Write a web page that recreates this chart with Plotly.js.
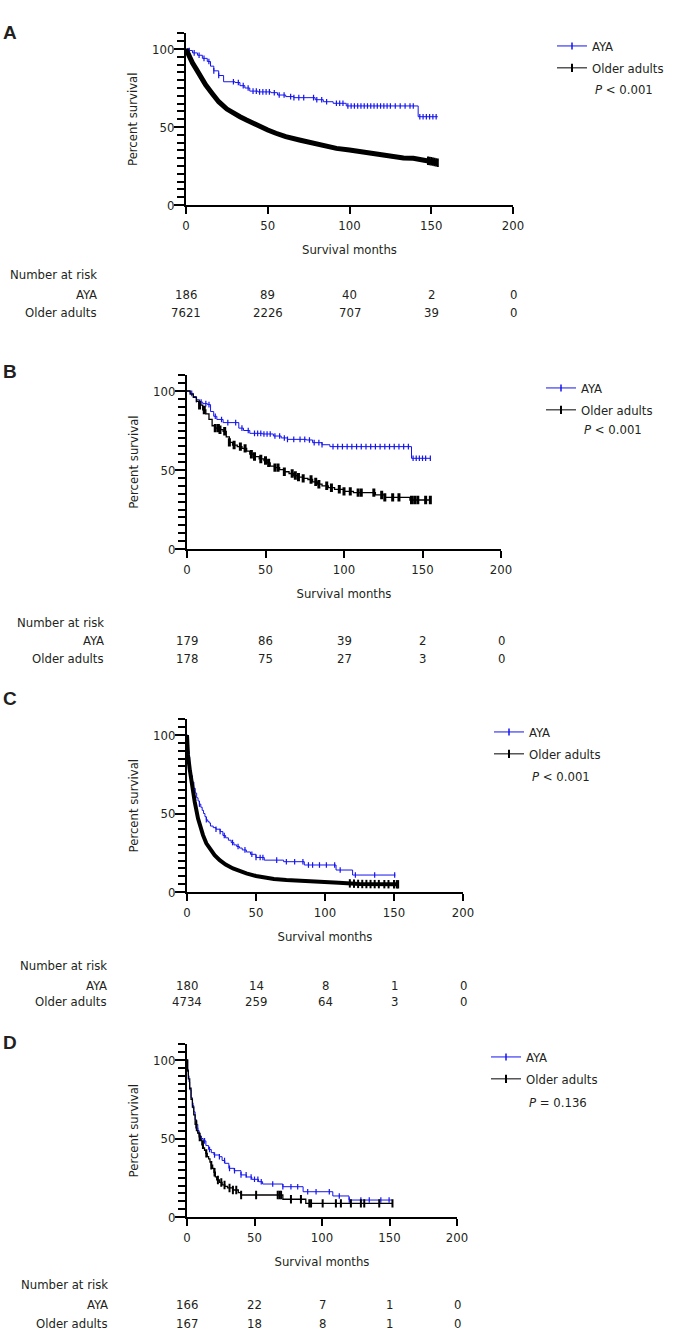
<!DOCTYPE html>
<html>
<head>
<meta charset="utf-8">
<script src="https://cdn.plot.ly/plotly-3.0.1.min.js"></script>
<style>html,body{margin:0;padding:0;background:#fff;}#chart{width:676px;height:1330px;}</style>
</head>
<body>
<div id="chart"></div>
<script>
// ---------------- DATA ----------------
const riskTimes = [0, 50, 100, 150, 200];
const groupNames = ["AYA", "Older adults"];
const panelLetters = ["A", "B", "C", "D"];
const pValues = ["<i>P</i> &lt; 0.001", "<i>P</i> &lt; 0.001", "<i>P</i> &lt; 0.001", "<i>P</i> = 0.136"];
const yMajorTicks = [0, 50, 100];

// Panel A
const aAyaT = [0, 2, 4, 7, 10, 13, 15, 17, 20, 23, 30, 33, 36, 39, 44, 52, 56, 61, 66, 79, 84, 90, 98, 142, 154];
const aAyaS = [100, 99, 97.5, 96, 94, 92, 89, 86, 83, 79, 78.5, 76.5, 75, 73, 72.5, 72, 70.5, 69.5, 68.8, 67.5, 66.2, 65.2, 63.5, 56.6, 56.6];
const aAyaCens = [2, 5, 8, 11, 14, 17, 20, 29, 32, 35, 38, 41, 43, 45, 47, 49, 51, 54, 57, 60, 64, 66, 69, 72, 78, 80, 83, 86, 92, 94, 96, 99, 101, 103, 105, 107, 109, 111, 113, 115, 117, 119, 121, 123, 125, 128, 131, 134, 137, 139, 143, 145, 147, 149, 151, 153];
const aOldT = [0, 2, 4, 6, 9, 12, 16, 20, 25, 30, 33, 37, 41, 45, 50, 55, 61, 70, 78, 85, 92, 100, 107, 114, 120, 127, 133, 139, 145, 150, 154];
const aOldS = [100, 95, 91, 87.6, 82, 77, 71.5, 66.2, 61.5, 58, 56.6, 54.5, 52.4, 50.3, 48.1, 46, 43.8, 41.5, 39.5, 37.8, 36.3, 35.3, 34.2, 33.1, 32, 31, 30.2, 29.9, 29, 28, 27.1];
const aOldCens = [148, 149, 150, 151, 152, 153, 154];

// Panel B
const bAyaT = [0, 2, 4, 6, 8, 10, 13, 15, 17, 19, 23, 33, 36, 40, 48, 55, 60, 64, 76, 80, 86, 91, 143, 155];
const bAyaS = [100, 98.5, 96.5, 94.5, 93, 92, 91.4, 87, 84, 82, 80, 76.5, 75, 73.2, 72.8, 71.5, 70.3, 69.4, 69, 67.3, 66, 64.8, 57.4, 57.4];
const bAyaCens = [3, 6, 9, 12, 14, 18, 22, 26, 31, 35, 39, 43, 45, 47, 49, 51, 53, 56, 59, 62, 64, 68, 72, 75, 78, 81, 84, 86, 93, 96, 99, 102, 105, 108, 111, 114, 117, 120, 123, 126, 129, 132, 135, 138, 141, 144, 146, 148, 150, 152, 155];
const bOldT = [0, 2, 4, 6, 8, 10, 12, 14, 16, 18, 21, 23, 25, 27, 29, 32, 35, 38, 40, 43, 46, 49, 51, 53, 56, 59, 62, 65, 68, 71, 74, 77, 80, 83, 86, 90, 94, 100, 106, 120, 126, 142, 155];
const bOldS = [100, 98, 96, 93.5, 91, 88, 85.5, 82, 78, 76.5, 75.5, 74.5, 71, 67.5, 65.8, 64.8, 63.7, 62, 60, 58.5, 57, 56, 54.5, 52.5, 51.5, 50.2, 48.9, 47.8, 46.5, 45.5, 44.7, 44, 42.5, 41, 40, 38.8, 37.8, 36.5, 35.7, 34.2, 32.7, 31, 31];
const bOldCens = [8, 11, 18, 20, 21, 24, 27, 30, 34, 37, 41, 43, 47, 50, 52, 56, 58, 62, 67, 69, 71, 74, 79, 82, 84, 89, 92, 97, 100, 104, 109, 111, 119, 124, 126, 131, 135, 143, 145, 147, 152, 155];

// Panel C
const cAyaT = [0, 0.5, 1, 1.5, 2, 2.5, 3, 4, 5, 6, 7, 8, 9, 10, 11, 12, 13, 14, 15, 16, 17, 19, 21, 24, 26, 28, 30, 32, 34, 36, 38, 40, 43, 46, 50, 56, 70, 85, 108, 120, 151];
const cAyaS = [100, 94, 90, 86, 82, 78, 74, 70, 66, 63, 60, 58, 56, 54, 52, 50, 48, 46, 45, 44, 42, 41, 40, 38.5, 36, 34.5, 33, 31.5, 30, 29, 28, 26.8, 25.5, 24, 22, 20.3, 19.3, 17.2, 14, 10.8, 10.8];
const cAyaCens = [9, 14, 21, 24, 27, 33, 37, 42, 47, 50, 53, 55, 65, 72, 78, 84, 88, 91, 96, 101, 107, 111, 122, 136, 150.5];
const cOldT = [0, 0.7, 2, 3.1, 4.3, 5.6, 8, 10, 11.6, 14, 16.4, 20, 23.7, 28, 33.3, 38, 43, 50, 55, 63, 72, 82, 91, 100, 110, 125, 140, 153];
const cOldS = [100, 87.3, 78, 70.3, 63, 57.4, 46.8, 40, 36.2, 31, 27.8, 23.5, 20.3, 17.5, 15, 13.2, 11.9, 10.2, 9.3, 8.3, 7.6, 7, 6.6, 6.3, 5.9, 5.1, 5, 4.9];
const cOldCens = [118, 121, 124, 127, 130, 133, 136, 139, 143, 146, 150, 152, 153];

// Panel D
const dAyaT = [0, 0.5, 1, 1.5, 2, 3, 4, 5, 6, 7, 8, 9, 10, 12, 14, 16, 18, 20, 24, 26, 28, 31, 35, 40, 44, 48, 53, 56, 71, 86, 108, 120, 152];
const dAyaS = [100, 94, 90, 86, 81, 76, 71, 67, 62, 59, 55, 52, 50, 48.5, 45.5, 43, 41, 39.5, 38.4, 36, 34.2, 31, 29.5, 26.8, 25.5, 24, 22.5, 21, 19.3, 16.1, 13.4, 10.8, 10.8];
const dAyaCens = [4.4, 8, 10.6, 13, 16.7, 20.4, 24, 27.8, 31.5, 35.2, 40, 43.8, 47.5, 50, 52.5, 55, 63.5, 71, 77, 82, 89.4, 95.6, 105.4, 112.8, 120.2, 128.8, 135, 143.6, 149.7];
const dOldT = [0, 0.5, 1, 2, 3, 4, 5, 6, 7, 8, 9, 10, 11, 12, 13, 14, 15, 16, 17, 18, 19, 20, 21, 22, 24, 26, 28, 30, 34, 38, 40, 71, 88, 152];
const dOldS = [100, 93, 88, 82, 75, 70, 65, 59, 55, 53.5, 51, 49, 46, 44, 42.5, 40.5, 38.5, 37, 35, 33, 31, 28.5, 25.5, 23.6, 22, 20.4, 19.5, 18.5, 17.2, 15.5, 14, 11.3, 8.7, 8.7];
const dOldCens = [6.9, 9.4, 11.8, 14.3, 18, 20.4, 22.9, 25.4, 27.8, 31.5, 34, 36.5, 40.1, 51.2, 67.2, 68.5, 69.7, 77, 84.4, 90.6, 91.9, 100.5, 110.3, 114, 121.4, 128.8, 131.3, 142.4, 152.2];

// Number at risk
const aRiskAya = [186, 89, 40, 2, 0];
const aRiskOld = [7621, 2226, 707, 39, 0];
const bRiskAya = [179, 86, 39, 2, 0];
const bRiskOld = [178, 75, 27, 3, 0];
const cRiskAya = [180, 14, 8, 1, 0];
const cRiskOld = [4734, 259, 64, 3, 0];
const dRiskAya = [166, 22, 7, 1, 0];
const dRiskOld = [167, 18, 8, 1, 0];

// ---------------- LAYOUT / STYLE ----------------
const W = 676, H = 1330;
const FONT = "DejaVu Sans Condensed, Liberation Sans, Arial, sans-serif";
const TXT = "#231f20";
const BLUE = "#1414f0";
const BLACK = "#000000";

const yTickVals = [];
for (let v = 0; v <= 110; v += 5) yTickVals.push(v);
const yTickText = yTickVals.map(v => (yMajorTicks.indexOf(v) >= 0 ? String(v) : ""));

const geo = [
  {xl: 186, xr: 513, y0: 205, y100: 49, letterY: 32, legX: 552, legTop: 31, pY: 89, risk: [275, 294, 313], riskLabelX: 99},
  {xl: 187, xr: 501, y0: 549, y100: 391, letterY: 372, legX: 541, legTop: 373, pY: 430, risk: [622, 640, 659], riskLabelX: 106},
  {xl: 187, xr: 463, y0: 892, y100: 735, letterY: 698, legX: 489, legTop: 717, pY: 776, risk: [965, 985, 1002], riskLabelX: 109},
  {xl: 187, xr: 457, y0: 1217, y100: 1060, letterY: 1042, legX: 486, legTop: 1042, pY: 1102, risk: [1284, 1304, 1323], riskLabelX: 110}
];

const panels = [
  {aya: [aAyaT, aAyaS, aAyaCens], old: [aOldT, aOldS, aOldCens], oldW: 5, oldShape: "linear", oldMark: 2, risk: [aRiskAya, aRiskOld]},
  {aya: [bAyaT, bAyaS, bAyaCens], old: [bOldT, bOldS, bOldCens], oldW: 1.3, oldShape: "hv", oldMark: 3, risk: [bRiskAya, bRiskOld]},
  {aya: [cAyaT, cAyaS, cAyaCens], old: [cOldT, cOldS, cOldCens], oldW: 4, oldShape: "linear", oldMark: 2, risk: [cRiskAya, cRiskOld]},
  {aya: [dAyaT, dAyaS, dAyaCens], old: [dOldT, dOldS, dOldCens], oldW: 1.3, oldShape: "hv", oldMark: 2, risk: [dRiskAya, dRiskOld]}
];

function stepAt(t, T, S) {
  let v = S[0];
  for (let i = 0; i < T.length; i++) { if (T[i] <= t) v = S[i]; else break; }
  return v;
}
function linAt(t, T, S) {
  for (let i = 1; i < T.length; i++) {
    if (t <= T[i]) { const f = (t - T[i - 1]) / (T[i] - T[i - 1]); return S[i - 1] + f * (S[i] - S[i - 1]); }
  }
  return S[S.length - 1];
}
const py = p => 1 - p / H;
const pxx = p => p / W;

const traces = [];
const layout = {
  width: W, height: H,
  margin: {l: 0, r: 0, t: 0, b: 0},
  paper_bgcolor: "#fff", plot_bgcolor: "rgba(0,0,0,0)",
  font: {family: FONT, size: 13, color: TXT},
  showlegend: true,
  annotations: []
};

panels.forEach((p, i) => {
  const g = geo[i];
  const k = i === 0 ? "" : String(i + 1);
  const xa = "x" + k, ya = "y" + k;
  const legName = i === 0 ? "legend" : "legend" + (i + 1);
  const yTop = g.y0 - (g.y0 - g.y100) * 1.1;

  layout["xaxis" + k] = {
    domain: [pxx(g.xl), pxx(g.xr)], anchor: ya, range: [0, 200],
    tick0: 0, dtick: 50, ticks: "outside", ticklen: 7, tickwidth: 2, tickcolor: "#000",
    showline: true, linewidth: 2, linecolor: "#000", showgrid: false, zeroline: false,
    tickfont: {size: 13, color: TXT}, automargin: false,
    title: {text: "Survival months", font: {size: 13, color: TXT}, standoff: 13}
  };
  layout["yaxis" + k] = {
    domain: [py(g.y0), py(yTop)], anchor: xa, range: [0, 110],
    tickmode: "array", tickvals: yTickVals, ticktext: yTickText,
    ticks: "outside", ticklen: 7, tickwidth: 2, tickcolor: "#000",
    showline: true, linewidth: 2, linecolor: "#000", showgrid: false, zeroline: false,
    tickfont: {size: 13, color: TXT}, automargin: false,
    title: {text: "Percent survival", font: {size: 13, color: TXT}, standoff: 12}
  };
  const mk = String(i + 5);
  layout["yaxis" + mk] = {
    overlaying: ya, anchor: xa, side: "left", range: [0, 110],
    tickmode: "array", tickvals: yMajorTicks, ticks: "outside", ticklen: 11, tickwidth: 2, tickcolor: "#000",
    showticklabels: false, showline: false, showgrid: false, zeroline: false, automargin: false
  };
  layout[legName] = {
    x: pxx(g.legX), xanchor: "left", y: py(g.legTop), yanchor: "top",
    bgcolor: "rgba(0,0,0,0)", font: {size: 13, color: TXT}, itemwidth: 30,
    traceorder: "grouped", tracegroupgap: 2, itemclick: false
  };

  traces.push({x: [0], y: [0], xaxis: xa, yaxis: "y" + mk, mode: "markers", marker: {size: 0, opacity: 0}, showlegend: false, hoverinfo: "skip"});

  const [aT, aS, aC] = p.aya;
  traces.push({x: aT, y: aS, xaxis: xa, yaxis: ya, mode: "lines", line: {shape: "hv", color: BLUE, width: 1}, showlegend: false, hoverinfo: "skip"});
  traces.push({x: aC, y: aC.map(t => stepAt(t, aT, aS)), xaxis: xa, yaxis: ya, mode: "markers",
    marker: {symbol: "line-ns", size: 4, line: {color: BLUE, width: 1.2}}, showlegend: false, hoverinfo: "skip"});
  const [oT, oS, oC] = p.old;
  traces.push({x: oT, y: oS, xaxis: xa, yaxis: ya, mode: "lines", line: {shape: p.oldShape, color: BLACK, width: p.oldW}, showlegend: false, hoverinfo: "skip"});
  const evalOld = p.oldShape === "hv" ? (t => stepAt(t, oT, oS)) : (t => linAt(t, oT, oS));
  traces.push({x: oC, y: oC.map(evalOld), xaxis: xa, yaxis: ya, mode: "markers",
    marker: {symbol: "line-ns", size: 6, line: {color: BLACK, width: p.oldMark}}, showlegend: false, hoverinfo: "skip"});

  traces.push({x: [null], y: [null], xaxis: xa, yaxis: ya, name: groupNames[0], legend: legName, legendgroup: "aya" + i,
    mode: "lines+markers", line: {color: BLUE, width: 1}, marker: {symbol: "line-ns", size: 5, line: {color: BLUE, width: 1.5}}});
  traces.push({x: [null], y: [null], xaxis: xa, yaxis: ya, name: groupNames[1], legend: legName, legendgroup: "old" + i,
    mode: "lines+markers", line: {color: BLACK, width: 1}, marker: {symbol: "line-ns", size: 6, line: {color: BLACK, width: 2}}});

  layout.annotations.push({xref: "paper", yref: "paper", x: pxx(g.legX + 41), y: py(g.pY), xanchor: "left", yanchor: "middle",
    text: pValues[i], showarrow: false, font: {size: 13, color: TXT}});
  layout.annotations.push({xref: "paper", yref: "paper", x: 0.001, y: py(g.letterY), xanchor: "left", yanchor: "middle",
    text: "<b>" + panelLetters[i] + "</b>", showarrow: false, font: {size: 19, color: TXT, family: "Liberation Sans, Arial, sans-serif"}});
  const labels = ["Number at risk", groupNames[0], groupNames[1]];
  labels.forEach((lab, j) => {
    layout.annotations.push({xref: "paper", yref: "paper", x: pxx(g.riskLabelX), y: py(g.risk[j]), xanchor: "right", yanchor: "middle",
      text: lab, showarrow: false, font: {size: 13, color: TXT}});
  });
  p.risk.forEach((row, j) => {
    row.forEach((v, m) => {
      layout.annotations.push({xref: xa, yref: "paper", x: riskTimes[m], y: py(g.risk[j + 1]), xanchor: "center", yanchor: "middle",
        text: String(v), showarrow: false, font: {size: 13, color: TXT}});
    });
  });
});

Plotly.newPlot("chart", traces, layout, {staticPlot: true, displayModeBar: false});
</script>
</body>
</html>
